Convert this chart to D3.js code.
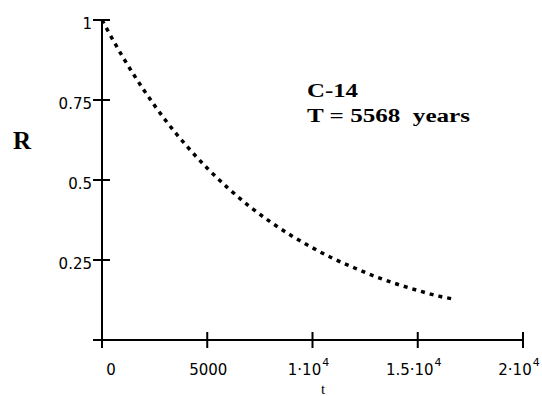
<!DOCTYPE html>
<html>
<head>
<meta charset="utf-8">
<script src="https://cdn.jsdelivr.net/npm/d3@7"></script>
<style>
  body { margin: 0; background: #fff; }
  svg { display: block; }
  .tick-label { font-family: "DejaVu Sans", sans-serif; font-size: 15px; fill: #000; }
  .note { font-family: "Liberation Serif", serif; font-weight: bold; fill: #000; }
</style>
</head>
<body>
<div id="chart"></div>
<script>
// DATA
const years = [0, 1000, 2000, 3000, 4000, 5000, 6000, 7000, 8000, 9000,
               10000, 11000, 12000, 13000, 14000, 15000, 16000, 16700];
const ratio = [1.000, 0.883, 0.780, 0.688, 0.608, 0.537, 0.474, 0.418, 0.369, 0.326,
               0.288, 0.254, 0.225, 0.198, 0.175, 0.155, 0.137, 0.128];
const xTicks = [0, 5000, 10000, 15000, 20000];
const xTickLabels = [["0", ""], ["5000", ""], ["1\u00b710", "4"], ["1.5\u00b710", "4"], ["2\u00b710", "4"]];
const yTicks = [0, 0.25, 0.5, 0.75, 1];
const yTickLabels = ["", "0.25", "0.5", "0.75", "1"];
const noteLines = ["C-14", "T = 5568  years"];

const width = 542, height = 396;
const x = d3.scaleLinear().domain([0, 20000]).range([102, 523]);
const y = d3.scaleLinear().domain([0, 1]).range([340, 20]);

const svg = d3.select("#chart").append("svg")
    .attr("width", width).attr("height", height);

//AXES
const axes = svg.append("g").attr("stroke", "#000").attr("stroke-width", 2);
axes.append("line")
    .attr("x1", x(0)).attr("x2", x(20000))
    .attr("y1", y(0)).attr("y2", y(0));
axes.append("line")
    .attr("x1", x(0)).attr("x2", x(0))
    .attr("y1", y(0)).attr("y2", y(1));

axes.selectAll(".xt").data(xTicks).enter().append("line")
    .attr("x1", d => x(d)).attr("x2", d => x(d))
    .attr("y1", y(0) - 8).attr("y2", y(0) + 8);
axes.selectAll(".yt").data(yTicks).enter().append("line")
    .attr("x1", x(0) - 9).attr("x2", x(0) + 8)
    .attr("y1", d => y(d)).attr("y2", d => y(d));

//TICK LABELS
const xl = svg.selectAll(".xl").data(xTicks).enter().append("text")
    .attr("class", "tick-label")
    .attr("x", (d, i) => x(d) + (i == 0 ? 9 : (xTickLabels[i][1] ? -4 : 1)))
    .attr("y", 375)
    .attr("text-anchor", "middle");
xl.append("tspan").text((d, i) => xTickLabels[i][0]);
xl.append("tspan")
    .attr("dy", -9).attr("dx", 1)
    .style("font-size", "11px")
    .text((d, i) => xTickLabels[i][1]);

svg.selectAll(".yl").data(yTicks).enter().append("text")
    .attr("class", "tick-label")
    .attr("x", x(0) - 10)
    .attr("y", d => y(d) + 9)
    .attr("text-anchor", "end")
    .text((d, i) => yTickLabels[i]);

//AXIS TITLES
svg.append("text").attr("class", "note")
    .attr("x", 13).attr("y", 149)
    .style("font-size", "25px")
    .text("R");
svg.append("text")
    .attr("x", 323).attr("y", 394)
    .attr("text-anchor", "middle")
    .style("font-family", "Liberation Serif, serif")
    .style("font-size", "15px")
    .text("t");

//NOTE
svg.append("text").attr("class", "note")
    .attr("x", 307).attr("y", 97)
    .style("font-size", "18px")
    .attr("textLength", 51).attr("lengthAdjust", "spacingAndGlyphs")
    .text(noteLines[0]);
svg.append("text").attr("class", "note")
    .attr("x", 307).attr("y", 122)
    .style("font-size", "18px")
    .attr("textLength", 163).attr("lengthAdjust", "spacingAndGlyphs")
    .style("white-space", "pre")
    .text(noteLines[1]);

//CURVE
const line = d3.line()
    .x(d => x(d[0]))
    .y(d => y(d[1]))
    .curve(d3.curveMonotoneX);
svg.append("path")
    .datum(years.map((t, i) => [t, ratio[i]]))
    .attr("d", line)
    .attr("fill", "none")
    .attr("stroke", "#000")
    .attr("stroke-width", 3.5)
    .attr("stroke-dasharray", "4,5");
</script>
</body>
</html>
